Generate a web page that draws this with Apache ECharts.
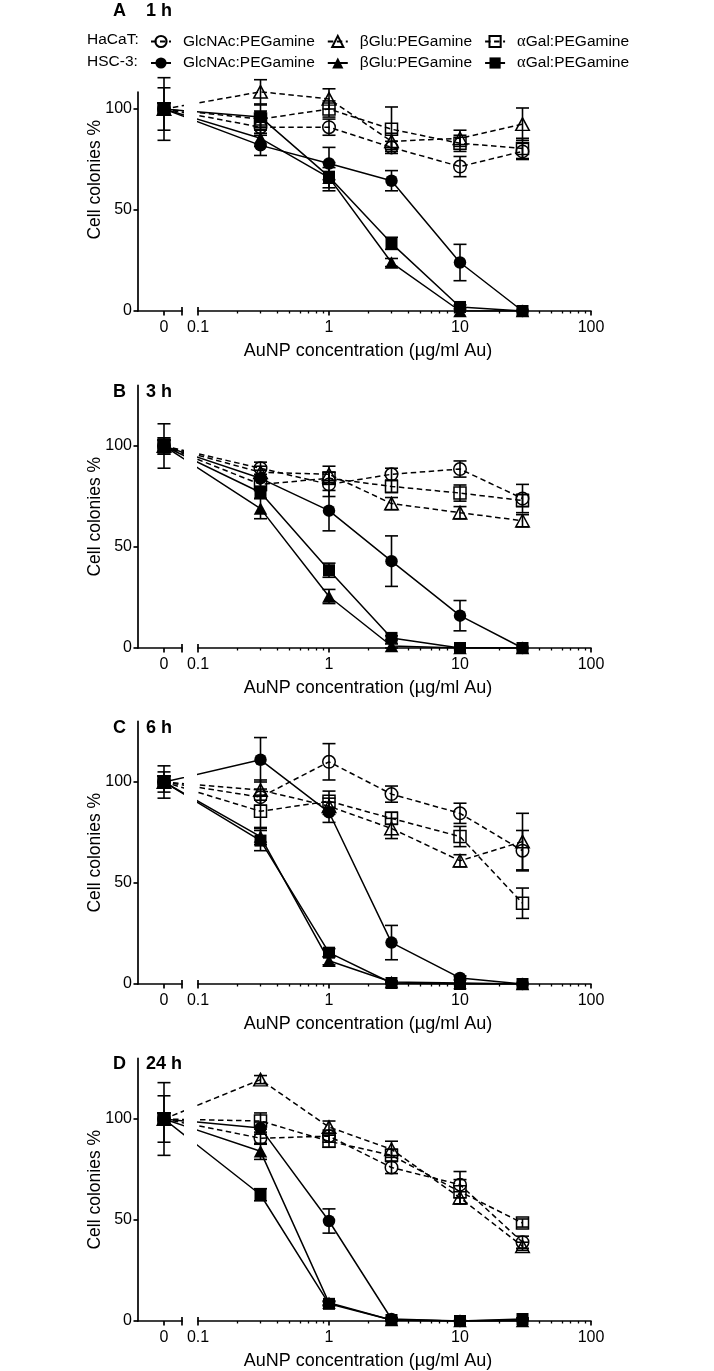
<!DOCTYPE html>
<html><head><meta charset="utf-8">
<script src="https://cdn.jsdelivr.net/npm/echarts@6/dist/echarts.min.js"></script>
<style>html,body{margin:0;padding:0;background:#fff}#c{width:714px;height:1371px}</style>
</head><body><div id="c"></div>
<script>
// ---------------- DATA ----------------
const concentrations = [0, 0.3, 1, 3, 10, 30];           // µg/ml Au (0 = untreated)
const panelLabels = ['A', 'B', 'C', 'D'];
const panelTimes = ['1 h', '3 h', '6 h', '24 h'];
const seriesNames = ['HaCaT GlcNAc', 'HaCaT bGlu', 'HaCaT aGal', 'HSC-3 GlcNAc', 'HSC-3 bGlu', 'HSC-3 aGal'];
const legendTexts = ['GlcNAc:PEGamine', 'βGlu:PEGamine', '{g|α}Gal:PEGamine', 'GlcNAc:PEGamine', 'βGlu:PEGamine', '{g|α}Gal:PEGamine'];
const xTickValues = [0.1, 1, 10, 100];
const xTickLabels = ['0.1', '1', '10', '100'];
const yTickValues = [0, 50, 100];

// 1 h
const h1_hacatGlcNAc = [100, 91, 91, 81, 71.5, 79];
const h1_hacatGlcNAcErr = [3, 3, 4, 3, 5, 4];
const h1_hacatBGlu = [100, 108.5, 105, 84, 85.5, 92.5];
const h1_hacatBGluErr = [3, 6, 5, 4, 4, 8];
const h1_hacatAGal = [100, 95, 100, 90, 83, 80.5];
const h1_hacatAGalErr = [10.5, 4, 4, 11, 4, 5];
const h1_hsc3GlcNAc = [100, 82, 73, 64.5, 24, 0];
const h1_hsc3GlcNAcErr = [15.5, 5, 8, 5, 9, 0];
const h1_hsc3BGlu = [100, 85.5, 66, 24, 0, 0];
const h1_hsc3BGluErr = [3, 4, 5, 2, 0, 0];
const h1_hsc3AGal = [100, 96, 66.5, 33.5, 2, 0];
const h1_hsc3AGalErr = [3, 6, 7, 3, 1, 0];

// 3 h
const h3_hacatGlcNAc = [100, 89, 81, 86, 88.6, 74];
const h3_hacatGlcNAcErr = [4, 3, 6, 3, 4, 7];
const h3_hacatBGlu = [100, 87, 86, 71.5, 67, 63];
const h3_hacatBGluErr = [3, 3, 4, 3, 3, 3];
const h3_hacatAGal = [100, 81, 84, 80, 76.7, 73];
const h3_hacatAGalErr = [11, 3, 3, 3, 4, 3];
const h3_hsc3GlcNAc = [100, 84, 68, 43, 16, 0];
const h3_hsc3GlcNAcErr = [4, 4, 10, 12.5, 7.5, 0];
const h3_hsc3BGlu = [100, 69, 25.5, 1, 0, 0];
const h3_hsc3BGluErr = [3, 5, 3.5, 1, 0, 0];
const h3_hsc3AGal = [100, 77, 38.5, 5, 0, 0];
const h3_hsc3AGalErr = [3, 3, 3.5, 1, 0, 0];

// 6 h
const h6_hacatGlcNAc = [100, 92.5, 110, 94, 84.5, 66];
const h6_hacatGlcNAcErr = [3, 4, 9, 4, 5, 10];
const h6_hacatBGlu = [100, 96, 88, 77, 61, 70.5];
const h6_hacatBGluErr = [3, 5, 4, 5, 3, 14];
const h6_hacatAGal = [100, 85.5, 90.5, 82, 73, 40];
const h6_hacatAGalErr = [3, 8, 5, 3, 5, 7.5];
const h6_hsc3GlcNAc = [100, 111, 85, 20.5, 3, 0];
const h6_hsc3GlcNAcErr = [8, 11, 5, 8.5, 1, 0];
const h6_hsc3BGlu = [100, 73, 11.5, 1, 0.5, 0];
const h6_hsc3BGluErr = [3, 4, 2, 0.5, 0, 0];
const h6_hsc3AGal = [100, 71, 15.5, 0.5, 0, 0];
const h6_hsc3AGalErr = [5, 5, 2, 0.5, 0, 0];

// 24 h
const h24_hacatGlcNAc = [100, 90.5, 91.5, 76, 67.5, 39];
const h24_hacatGlcNAcErr = [3, 3, 3, 3, 6.5, 3];
const h24_hacatBGlu = [100, 119.5, 96, 85, 61, 37];
const h24_hacatBGluErr = [3, 2, 3, 4, 3, 2];
const h24_hacatAGal = [100, 99, 89, 82, 64, 48.5];
const h24_hacatAGalErr = [3, 4, 3, 3, 6, 2];
const h24_hsc3GlcNAc = [100, 95.5, 49.5, 1, 0, 0.5];
const h24_hsc3GlcNAcErr = [18, 3, 6, 0.5, 0, 0];
const h24_hsc3BGlu = [100, 84, 9, 0.5, 0, 0];
const h24_hsc3BGluErr = [3, 4, 1, 0.5, 0, 0];
const h24_hsc3AGal = [100, 62.5, 8.5, 0.5, 0, 1];
const h24_hsc3AGalErr = [11.5, 3, 1, 0.5, 0, 0.5];

const panelValues = [
  [h1_hacatGlcNAc, h1_hacatBGlu, h1_hacatAGal, h1_hsc3GlcNAc, h1_hsc3BGlu, h1_hsc3AGal],
  [h3_hacatGlcNAc, h3_hacatBGlu, h3_hacatAGal, h3_hsc3GlcNAc, h3_hsc3BGlu, h3_hsc3AGal],
  [h6_hacatGlcNAc, h6_hacatBGlu, h6_hacatAGal, h6_hsc3GlcNAc, h6_hsc3BGlu, h6_hsc3AGal],
  [h24_hacatGlcNAc, h24_hacatBGlu, h24_hacatAGal, h24_hsc3GlcNAc, h24_hsc3BGlu, h24_hsc3AGal]
];
const panelErrors = [
  [h1_hacatGlcNAcErr, h1_hacatBGluErr, h1_hacatAGalErr, h1_hsc3GlcNAcErr, h1_hsc3BGluErr, h1_hsc3AGalErr],
  [h3_hacatGlcNAcErr, h3_hacatBGluErr, h3_hacatAGalErr, h3_hsc3GlcNAcErr, h3_hsc3BGluErr, h3_hsc3AGalErr],
  [h6_hacatGlcNAcErr, h6_hacatBGluErr, h6_hacatAGalErr, h6_hsc3GlcNAcErr, h6_hsc3BGluErr, h6_hsc3AGalErr],
  [h24_hacatGlcNAcErr, h24_hacatBGluErr, h24_hacatAGalErr, h24_hsc3GlcNAcErr, h24_hsc3BGluErr, h24_hsc3AGalErr]
];

// ---------------- LAYOUT / STYLE ----------------
const FONT = "'Liberation Sans', Arial, Helvetica, sans-serif";
const K = 2.02;                       // px per % unit
const BOTTOMS = [311, 648, 984, 1321];
const YTOP = [108.4, 130, 130, 130];  // visible y-axis extent
const LABEL_Y = [12, 393, 729, 1065];
const AX_X = 138, ZERO_PX = 164, ZEND_PX = 182, LOG_PX = 198, DECADE = 131;
const ZERO_POS = -1 - (LOG_PX - ZERO_PX) / DECADE;
const ZMIN = -1 - (LOG_PX - AX_X) / DECADE;
const ZMAX = -1 - (LOG_PX - ZEND_PX) / DECADE;
const LMAXY = 140;
const SYMBOLS = ['circle', 'triangle', 'rect', 'circle', 'triangle', 'rect'];
const SIZES = [12.5, [13.5, 12.5], 12, 12.5, [13.5, 12.5], 12];
const DASH = [5.5, 3.5];
const CAP = 6.5;

function xPos(c) { return c === 0 ? ZERO_POS : Math.log10(c); }
const majorT = xTickValues.map(v => Math.log10(v));
const minorT = [];
for (let n = -1; n <= 1; n++) for (let k = 2; k <= 9; k++) minorT.push(Math.log10(k * Math.pow(10, n)));

const lineBlack = { color: '#000', width: 1.7 };
const grids = [], xAxes = [], yAxes = [], series = [], titles = [];

titles.push({ text: 'HaCaT:', left: 87, top: 31.5, padding: 0, textStyle: { fontSize: 15.5, fontWeight: 'normal', color: '#000', fontFamily: FONT } });
titles.push({ text: 'HSC-3:', left: 87, top: 53.5, padding: 0, textStyle: { fontSize: 15.5, fontWeight: 'normal', color: '#000', fontFamily: FONT } });

panelLabels.forEach((lab, p) => {
  const b = BOTTOMS[p];
  const g0 = grids.length;
  // grid Z (zero segment), grid L (log segment), grid N (axis names)
  grids.push({ left: AX_X, width: ZEND_PX - AX_X, top: b - YTOP[p] * K, height: YTOP[p] * K, outerBoundsMode: 'none', containLabel: false });
  grids.push({ left: LOG_PX, width: 3 * DECADE, top: b - LMAXY * K, height: LMAXY * K, outerBoundsMode: 'none', containLabel: false });
  grids.push({ left: AX_X, width: 460, top: b - 130 * K, height: 130 * K, outerBoundsMode: 'none', containLabel: false });

  const x0 = xAxes.length;
  const hidden = { axisLine: { show: false }, axisTick: { show: false }, axisLabel: { show: false }, splitLine: { show: false } };
  // Z main
  xAxes.push({ gridIndex: g0, type: 'value', position: 'bottom', min: ZMIN, max: ZMAX,
    axisLine: { show: true, onZero: false, lineStyle: lineBlack },
    axisTick: { show: true, customValues: [ZERO_POS, ZMAX], length: 4.5, lineStyle: lineBlack },
    axisLabel: { show: true, customValues: [ZERO_POS], formatter: () => '0', margin: 9, fontSize: 16, color: '#000', fontFamily: FONT },
    splitLine: { show: false } });
  // Z inside break tick
  xAxes.push({ gridIndex: g0, type: 'value', position: 'bottom', min: ZMIN, max: ZMAX,
    axisLine: { show: false, onZero: false },
    axisTick: { show: true, inside: true, customValues: [ZMAX], length: 4, lineStyle: lineBlack },
    axisLabel: { show: false }, splitLine: { show: false } });
  // L main
  xAxes.push({ gridIndex: g0 + 1, type: 'value', position: 'bottom', min: -1, max: 2,
    axisLine: { show: true, onZero: false, lineStyle: lineBlack },
    axisTick: { show: true, customValues: majorT, length: 4.5, lineStyle: lineBlack },
    axisLabel: { show: true, customValues: majorT, margin: 9, fontSize: 16, color: '#000', fontFamily: FONT,
      formatter: v => { const i = majorT.findIndex(t => Math.abs(t - v) < 1e-6); return i >= 0 ? xTickLabels[i] : ''; } },
    splitLine: { show: false } });
  // L minor
  xAxes.push({ gridIndex: g0 + 1, type: 'value', position: 'bottom', min: -1, max: 2,
    axisLine: { show: false, onZero: false },
    axisTick: { show: true, customValues: minorT, length: 2.5, lineStyle: { color: '#000', width: 1.3 } },
    axisLabel: { show: false }, splitLine: { show: false } });
  // L inside break tick
  xAxes.push({ gridIndex: g0 + 1, type: 'value', position: 'bottom', min: -1, max: 2,
    axisLine: { show: false, onZero: false },
    axisTick: { show: true, inside: true, customValues: [-1], length: 4, lineStyle: lineBlack },
    axisLabel: { show: false }, splitLine: { show: false } });
  // N name axis
  xAxes.push(Object.assign({ gridIndex: g0 + 2, type: 'value', position: 'bottom', min: 0, max: 1,
    name: 'AuNP concentration (µg/ml Au)', nameLocation: 'middle', nameGap: 31,
    nameTextStyle: { fontSize: 18, color: '#000', fontFamily: FONT } }, hidden));

  const y0 = yAxes.length;
  yAxes.push({ gridIndex: g0, type: 'value', position: 'left', min: 0, max: YTOP[p],
    axisLine: { show: true, lineStyle: lineBlack },
    axisTick: { show: true, customValues: yTickValues, length: 4.5, lineStyle: lineBlack },
    axisLabel: { show: true, customValues: yTickValues, margin: 6, fontSize: 16, color: '#000', fontFamily: FONT },
    splitLine: { show: false } });
  yAxes.push({ gridIndex: g0 + 1, type: 'value', show: false, min: 0, max: LMAXY, splitLine: { show: false } });
  yAxes.push(Object.assign({ gridIndex: g0 + 2, type: 'value', position: 'left', min: 0, max: 130,
    name: 'Cell colonies %', nameLocation: 'middle', nameGap: 34, nameRotate: 90,
    nameTextStyle: { fontSize: 17.5, color: '#000', fontFamily: FONT } }, hidden));

  titles.push({ text: lab, left: 113, top: LABEL_Y[p] - 9.5, padding: 0, textStyle: { fontSize: 18, fontWeight: 'bold', color: '#000', fontFamily: FONT } });
  titles.push({ text: panelTimes[p], left: 146, top: LABEL_Y[p] - 9.5, padding: 0, textStyle: { fontSize: 18, fontWeight: 'bold', color: '#000', fontFamily: FONT } });

  const errZ = [], errL = [];
  seriesNames.forEach((name, s) => {
    const vals = panelValues[p][s], errs = panelErrors[p][s];
    const data = concentrations.map((c, i) => [xPos(c), vals[i]]);
    concentrations.forEach((c, i) => { (c === 0 ? errZ : errL).push([xPos(c), vals[i], errs[i]]); });
    const filled = s >= 3;
    const mk = (xi, yi) => ({
      type: 'line', name, xAxisIndex: xi, yAxisIndex: yi, data,
      symbol: SYMBOLS[s], symbolSize: SIZES[s], showSymbol: true, showAllSymbol: true,
      clip: true, animation: false, silent: true, z: 3,
      lineStyle: { color: '#000', width: 1.5, type: filled ? 'solid' : DASH },
      itemStyle: filled ? { color: '#000', borderWidth: 0 } : { color: 'rgba(255,255,255,0)', borderColor: '#000', borderWidth: 1.5 },
      emphasis: { disabled: true }
    });
    series.push(mk(x0, y0));
    series.push(mk(x0 + 2, y0 + 1));
  });
  const errSeries = (xi, yi, d) => ({
    type: 'custom', name: 'err', xAxisIndex: xi, yAxisIndex: yi, data: d, z: 1, silent: true, animation: false,
    encode: { x: 0, y: 1 },
    renderItem: (params, api) => {
      const x = api.value(0), y = api.value(1), e = api.value(2);
      if (!(e > 0)) return null;
      const t = api.coord([x, y + e]), bt = api.coord([x, y - e]);
      const st = { stroke: '#000', lineWidth: 1.6 };
      return { type: 'group', children: [
        { type: 'line', shape: { x1: t[0], y1: t[1], x2: bt[0], y2: bt[1] }, style: st },
        { type: 'line', shape: { x1: t[0] - CAP, y1: t[1], x2: t[0] + CAP, y2: t[1] }, style: st },
        { type: 'line', shape: { x1: bt[0] - CAP, y1: bt[1], x2: bt[0] + CAP, y2: bt[1] }, style: st }
      ] };
    }
  });
  series.push(errSeries(x0, y0, errZ));
  series.push(errSeries(x0 + 2, y0 + 1, errL));
});

const legendBase = {
  orient: 'horizontal', left: 150, itemWidth: 20, itemHeight: 14, itemGap: 12, padding: 0, selectedMode: false,
  formatter: n => legendTexts[seriesNames.indexOf(n)],
  textStyle: { fontSize: 15.5, color: '#000', fontFamily: FONT, padding: [0, 0, 0, 7],
    rich: { g: { fontFamily: "'Liberation Serif', 'Times New Roman', serif", fontSize: 16.5, color: '#000' } } }
};

const option = {
  backgroundColor: '#fff',
  animation: false,
  title: titles,
  legend: [
    Object.assign({ data: seriesNames.slice(0, 3), top: 33 }, legendBase),
    Object.assign({ data: seriesNames.slice(3), top: 54.5 }, legendBase)
  ],
  grid: grids, xAxis: xAxes, yAxis: yAxes, series
};
const chart = echarts.init(document.getElementById('c'), null, { renderer: 'canvas' });
chart.setOption(option);
</script></body></html>
